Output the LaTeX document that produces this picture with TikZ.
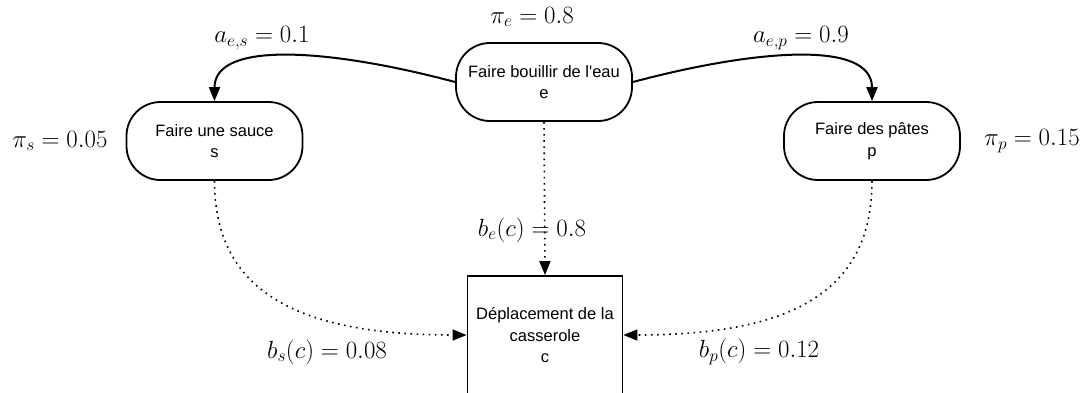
\documentclass[tikz,border=0pt]{standalone}
\usepackage{fontspec}
\setsansfont[Ligatures=TeXOff]{Liberation Sans}
\usetikzlibrary{arrows.meta}

\tikzset{
  tache/.style={draw, line width=1.8pt, rounded corners=34pt, minimum width=176pt,
    minimum height=78pt, align=center, inner sep=2pt,
    font=\sffamily\fontsize{16.5}{21.5}\selectfont},
  obs/.style={draw, line width=1.8pt, minimum width=155pt, minimum height=118pt,
    align=center, inner sep=2pt, font=\sffamily\fontsize{16.5}{21.5}\selectfont},
  proba/.style={font=\fontsize{25}{28}\selectfont, inner sep=0pt},
  trans/.style={line width=2pt, -{Triangle[length=14pt,width=11pt]}},
  emis/.style={line width=1.6pt, dash pattern=on 1.6pt off 4.5pt,
    -{Triangle[length=14pt,width=11pt]}},
}

\begin{document}
\begin{tikzpicture}[x=1pt, y=-1pt]
    \useasboundingbox (0,0) rectangle (1092,392);
    % Tâches cachées
    \node[tache] (e) at (544,82) {Faire bouillir de l'eau\\e};
    \node[tache] (s) at (214.5,141) {Faire une sauce\\s};
    \node[tache] (p) at (872,141) {Faire des pâtes\\p};
    % Observation
    \node[obs] (c) at (545,335) {Déplacement de la\\casserole\\c};
    % Transitions
    \draw[trans] (e.west) .. controls +(-120,-32) and +(0,-62) .. (s.north);
    \draw[trans] (e.east) .. controls +(120,-32) and +(0,-62) .. (p.north);
    % Émissions
    \draw[emis] (e.south) -- (c.north);
    \draw[emis] (s.south) .. controls +(0,110) and +(-170,0) .. (c.west);
    \draw[emis] (p.south) .. controls +(0,110) and +(170,0) .. (c.east);
    % Probabilités
    \node[proba] (pie) at (532,17) {$\pi_e = 0.8$};
    \node[proba] (pis) at (60,141) {$\pi_s = 0.05$};
    \node[proba] (pip) at (1032,141) {$\pi_p = 0.15$};
    \node[proba] (aes) at (262,38) {$a_{e,s} = 0.1$};
    \node[proba] (aep) at (801,38) {$a_{e,p} = 0.9$};
    \node[proba] (bec) at (532,230) {$b_e(c) = 0.8$};
    \node[proba] (bsc) at (327,352) {$b_s(c) = 0.08$};
    \node[proba] (bpc) at (759,352) {$b_p(c) = 0.12$};
\end{tikzpicture}
\end{document}
